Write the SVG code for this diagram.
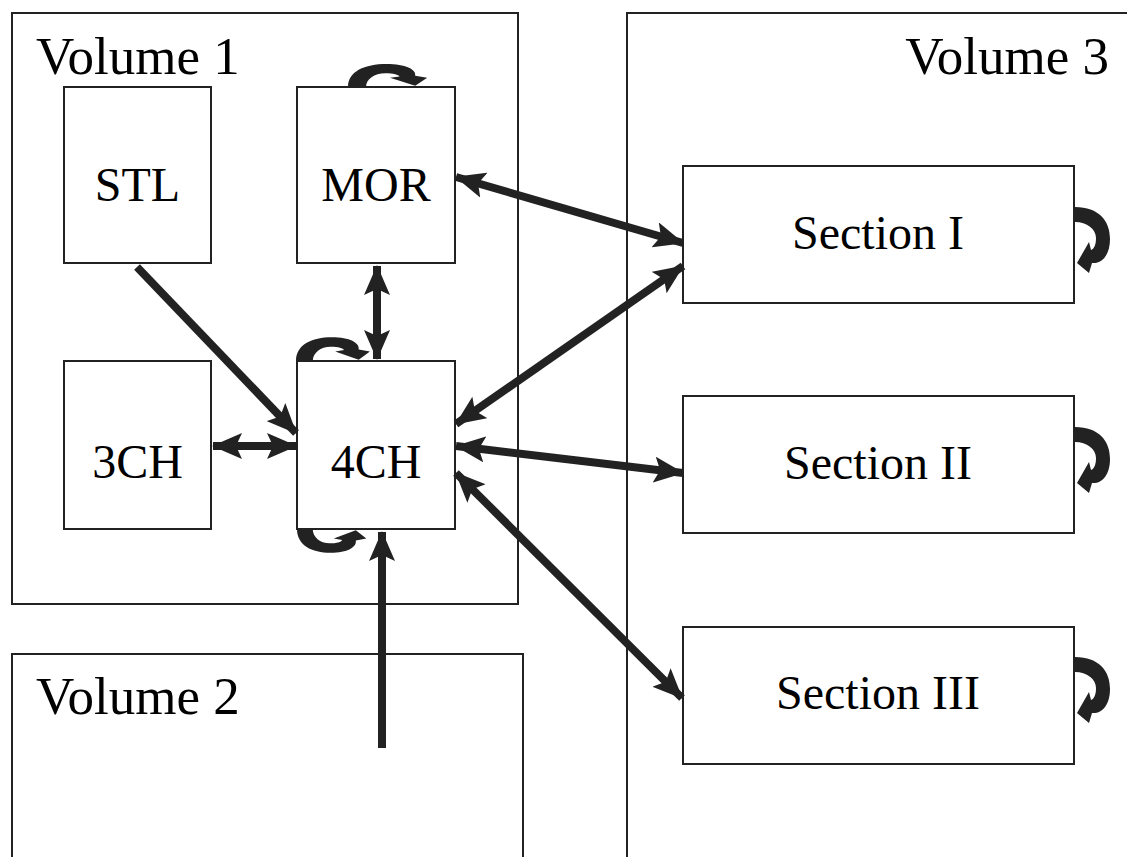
<svg xmlns="http://www.w3.org/2000/svg" width="1127" height="857" viewBox="0 0 1127 857">
<style>
.box{fill:#fff;stroke:#222;stroke-width:2}
.vol{font-family:"Liberation Serif",serif;font-size:53px;fill:#000}
.lbl{font-family:"Liberation Serif",serif;font-size:48px;fill:#000;text-anchor:middle}
.con{stroke:#222;stroke-width:8;fill:none;marker-start:url(#ah);marker-end:url(#ah)}
.one{stroke:#222;stroke-width:8;fill:none;marker-end:url(#ah)}
.loop{fill:#222}
</style>
<defs>
<marker id="ah" markerUnits="userSpaceOnUse" viewBox="0 0 30 26" refX="29" refY="13" markerWidth="30" markerHeight="26" orient="auto-start-reverse">
<path d="M0,0 L30,13 L0,26 L6,13 Z" fill="#222"/>
</marker>
<path id="lp" d="M0,0 C0,-24 14,-35 32,-35 C48,-35 57,-27 56,-17 L66,-14 L56,-2 L35,-14 L43,-16 C42,-19 38,-21 31,-21 C22,-21 15,-12 15,0 Z"/>
</defs>
<g id="volume1"><rect class="box" x="12" y="13" width="506" height="591"/><text class="vol" x="36" y="74">Volume 1</text></g>
<g id="volume2"><path class="box" d="M12,870 V654 H523 V870"/><text class="vol" x="36" y="714">Volume 2</text></g>
<g id="volume3"><path class="box" d="M627,870 V13 H1140"/><text class="vol" x="1109" y="74" text-anchor="end">Volume 3</text></g>
<g id="stl"><rect class="box" x="64" y="87" width="147" height="176"/><text class="lbl" x="137.5" y="201">STL</text></g>
<g id="mor"><rect class="box" x="297" y="87" width="158" height="176"/><text class="lbl" x="376" y="201">MOR</text></g>
<g id="ch3"><rect class="box" x="64" y="361" width="147" height="168"/><text class="lbl" x="137.5" y="478">3CH</text></g>
<g id="ch4"><rect class="box" x="297" y="361" width="158" height="168"/><text class="lbl" x="376" y="478">4CH</text></g>
<g id="sec1"><rect class="box" x="683" y="166" width="391" height="137"/><text class="lbl" x="878" y="249">Section I</text></g>
<g id="sec2"><rect class="box" x="683" y="396" width="391" height="137"/><text class="lbl" x="878" y="479">Section II</text></g>
<g id="sec3"><rect class="box" x="683" y="627" width="391" height="137"/><text class="lbl" x="878" y="709">Section III</text></g>
<g id="connectors">
<line class="one" x1="137" y1="267" x2="296" y2="433"/>
<line class="con" x1="377" y1="266" x2="377" y2="359"/>
<line class="con" x1="213" y1="446" x2="296" y2="446"/>
<line class="con" x1="456" y1="177" x2="683" y2="243"/>
<line class="con" x1="456" y1="424" x2="683" y2="266"/>
<line class="con" x1="456" y1="446" x2="683" y2="473"/>
<line class="con" x1="456" y1="473" x2="682" y2="698"/>
<line class="one" x1="382" y1="748" x2="382" y2="532"/>
<use href="#lp" class="loop" transform="translate(348,87) scale(1.2,0.66)"/>
<use href="#lp" class="loop" transform="translate(296,361) scale(1.12,0.68)"/>
<use href="#lp" class="loop" transform="translate(297,529) scale(1.05,-0.68)"/>
<use href="#lp" class="loop" transform="translate(1075,207) rotate(90)"/>
<use href="#lp" class="loop" transform="translate(1075,427) rotate(90)"/>
<use href="#lp" class="loop" transform="translate(1075,657) rotate(90)"/>
</g>
</svg>
